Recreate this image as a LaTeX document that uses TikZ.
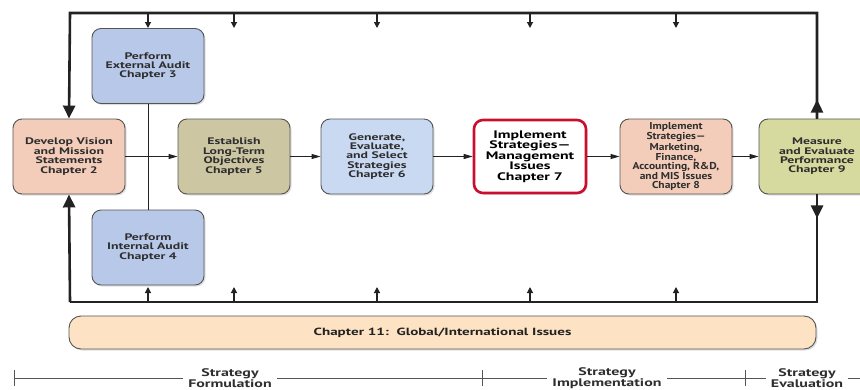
\documentclass[tikz,border=0pt]{standalone}
\usepackage{fontspec}
\setmainfont{PT Sans}
\newfontfamily\diagfont[FakeStretch=1.45]{PT Sans}
\newfontfamily\densefont[FakeStretch=1.15]{PT Sans}
\usetikzlibrary{arrows.meta, shadows}
\definecolor{AuditBlue}{HTML}{B8C8E8}
\definecolor{StrategyBlue}{HTML}{C9D9F2}
\definecolor{VisionSalmon}{HTML}{F3CDB9}
\definecolor{ObjectiveKhaki}{HTML}{CCC6A3}
\definecolor{MeasureGreen}{HTML}{D6DA9E}
\definecolor{GlobalPeach}{HTML}{FDE2C4}
\definecolor{ImplementRed}{HTML}{C8102E}
\definecolor{EdgeGray}{HTML}{555555}
\definecolor{TextGray}{HTML}{2E2E2E}
\definecolor{LineBlack}{HTML}{222222}
\tikzset{
    % Chapter boxes with rounded corners
    chapter/.style={
        rectangle,
        rounded corners=9pt,
        draw=EdgeGray,
        line width=0.9pt,
        minimum width=112pt,
        minimum height=75pt,
        align=center,
        text=TextGray,
        font=\diagfont\bfseries\fontsize{9.5}{9.4}\selectfont,
        drop shadow={shadow xshift=1.5pt, shadow yshift=-1.5pt, opacity=0.25}
    },
    chapter blue/.style={
        chapter,
        fill=AuditBlue
    },
    chapter salmon/.style={
        chapter,
        fill=VisionSalmon
    },
    global bar/.style={
        chapter,
        fill=GlobalPeach,
        rounded corners=12pt,
        minimum width=747pt,
        minimum height=33pt,
        text=LineBlack,
        font=\diagfont\bfseries\fontsize{10.4}{11}\selectfont
    },
    phase/.style={
        fill=white,
        inner xsep=5pt,
        inner ysep=0pt,
        align=center,
        text=TextGray,
        font=\diagfont\bfseries\fontsize{11}{11}\selectfont
    },
    loop line/.style={
        line width=2.6pt,
        LineBlack
    },
    loop arrow/.style={
        loop line,
        -{Triangle[length=13pt, width=12pt]}
    },
    flow arrow/.style={
        line width=1pt,
        LineBlack,
        -{Triangle[length=9pt, width=5pt]}
    },
    stub arrow/.style={
        line width=1.2pt,
        LineBlack,
        -{Triangle[length=6pt, width=6pt]}
    },
    time line/.style={
        line width=0.9pt,
        EdgeGray
    }
}

\begin{document}
\begin{tikzpicture}[x=1pt, y=-1pt]
    \clip (0,0) rectangle (860,389);

    % Formulation boxes
    \node[chapter salmon] (ch2) at (69,156.5) {Develop Vision\\and Mission\\Statements\\Chapter 2};
    \node[chapter blue] (ch3) at (148,66) {Perform\\External Audit\\Chapter 3};
    \node[chapter blue] (ch4) at (148,247.5) {Perform\\Internal Audit\\Chapter 4};
    \node[chapter, fill=ObjectiveKhaki] (ch5) at (234,156.5) {Establish\\Long-Term\\Objectives\\Chapter 5};
    \node[chapter, fill=StrategyBlue] (ch6) at (377,156.5) {Generate,\\Evaluate,\\and Select\\Strategies\\Chapter 6};

    % Implementation boxes
    \node[chapter, fill=white, draw=ImplementRed, line width=2.6pt, minimum width=112pt, minimum height=73pt, text=black,
          font=\diagfont\bfseries\fontsize{10.9}{10.5}\selectfont] (ch7) at (530,156.5)
          {Implement\\Strategies—\\Management\\Issues\\Chapter 7};
    \node[chapter salmon, font=\densefont\bfseries\fontsize{10}{8.9}\selectfont] (ch8) at (676,156.5)
          {Implement\\Strategies—\\Marketing,\\Finance,\\Accounting, R\&D,\\and MIS Issues\\Chapter 8};

    % Evaluation box
    \node[chapter, fill=MeasureGreen, minimum width=116pt] (ch9) at (817,156.5) {Measure\\and Evaluate\\Performance\\Chapter 9};

    % Global issues bar
    \node[global bar] (ch11) at (442.5,332.5) {Chapter 11:\ \ Global/International Issues};

    % Flow arrows
    \draw[line width=1pt, LineBlack] (ch3) -- (ch4);
    \draw[flow arrow] (ch2) -- (ch5);
    \draw[flow arrow] (ch5) -- (ch6);
    \draw[flow arrow] (ch6) -- (ch7);
    \draw[flow arrow] (ch7) -- (ch8);
    \draw[flow arrow] (ch8) -- (ch9);

    % Feedback loop
    \coordinate (tl) at (70,13);
    \coordinate (bl) at (70,302);
    \draw[loop arrow] (ch9.north) |- (tl) -- (ch2.north);
    \draw[loop arrow] (ch9.north) -- ++(0,-19);
    \draw[loop line] (ch9.south) |- (bl);
    \draw[loop arrow] (bl) -- (ch2.south);
    \draw[loop arrow] (ch9.south) -- ++(0,24);

    % Stubs from the loop
    \foreach \n in {ch3,ch5,ch6,ch7,ch8}
        \draw[stub arrow] (\n.north |- tl) -- ++(0,15);
    \foreach \n in {ch4,ch5,ch6,ch7,ch8}
        \draw[stub arrow] (\n.south |- bl) -- ++(0,-15);

    % Stage time line
    \coordinate (t1) at (14,378);
    \coordinate (t2) at (482,378);
    \coordinate (t3) at (745,378);
    \coordinate (tend) at (862,378);
    \draw[time line] (t1) -- (tend);
    \foreach \t in {t1,t2,t3}
        \draw[time line] (\t) ++(0,-8) -- ++(0,16);
    \node[phase] (form) at (230,378) {Strategy\\Formulation};
    \node[phase] (impl) at (607,378) {Strategy\\Implementation};
    \node[phase] (eval) at (807,378) {Strategy\\Evaluation};
\end{tikzpicture}
\end{document}
